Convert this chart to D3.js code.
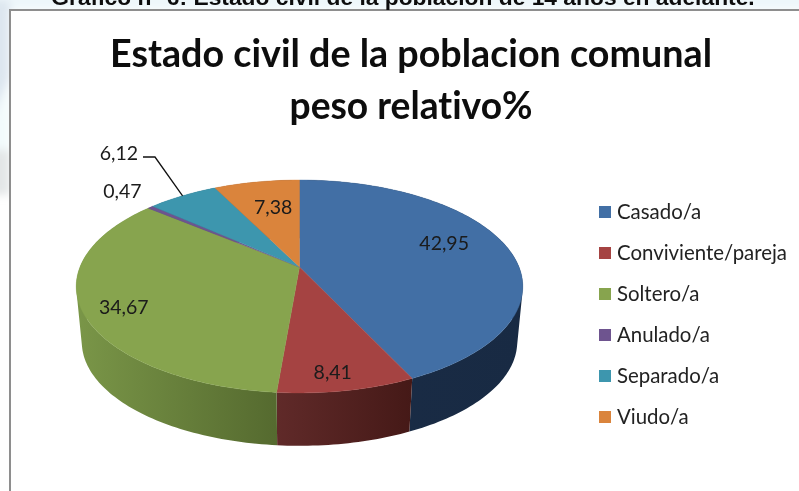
<!DOCTYPE html>
<html><head><meta charset="utf-8">
<script src="https://cdn.jsdelivr.net/npm/d3@7"></script>
<style>html,body{margin:0;padding:0;background:#fff}svg{display:block}text{font-variant-ligatures:none}</style>
</head><body><svg id="c" width="799" height="491"></svg>
<script>
const categories = ["Casado/a","Conviviente/pareja","Soltero/a","Anulado/a","Separado/a","Viudo/a"];
const values = [42.95,8.41,34.67,0.47,6.12,7.38];
const valueLabels = ["42,95","8,41","34,67","0,47","6,12","7,38"];
const colors = ["#426fa5","#a54342","#87a44e","#6e548f","#3d96ae","#da843c"];
const sideLight = ["#1a2c46","#602a29","#7a9648","#4a3860","#28697a","#97592a"];
const sideDark = ["#182a43","#451917","#556a2f","#3a2b4c","#1f5463","#7a4620"];
const titleLines = ["Estado civil de la poblacion comunal","peso relativo%"];
const titleWidths = [602,243];
const pageTitle = "Gráfico n° 6: Estado civil de la población de 14 años en adelante.";

const svg = d3.select("#c");
const defs = svg.append("defs");
const blur = defs.append("filter").attr("id","soft").attr("x","-20%").attr("y","-20%").attr("width","140%").attr("height","140%");
blur.append("feGaussianBlur").attr("stdDeviation",0.4);
const bgBlur = defs.append("filter").attr("id","bgb").attr("x","-50%").attr("y","-50%").attr("width","200%").attr("height","200%");
bgBlur.append("feGaussianBlur").attr("stdDeviation",4);

svg.append("rect").attr("width",799).attr("height",491).attr("fill","#fff");
const bg = svg.append("g").attr("filter","url(#bgb)");
bg.append("rect").attr("x",-10).attr("y",-10).attr("width",830).attr("height",20).attr("fill","#eef7fa");
bg.append("path").attr("d","M-10,0 H10 V78 L-10,122 Z").attr("fill","#dde6ef");
bg.append("path").attr("d","M-10,125 L10,80 V150 H-10 Z").attr("fill","#f2fafc");
bg.append("path").attr("d","M-10,150 H10 V195 H-10 Z").attr("fill","#e3e6e7");
svg.append("rect").attr("x",10).attr("y",10).attr("width",800).attr("height",490).attr("fill","#fff");
svg.append("path").attr("d","M10,500 V10 H800").attr("fill","none").attr("stroke","#8e8e8e").attr("stroke-width",2);

svg.append("text").attr("x",403).attr("y",5).attr("text-anchor","middle")
  .attr("font-family","Liberation Sans").attr("font-weight","bold").attr("font-size",22.8)
  .attr("fill","#111").attr("filter","url(#soft)").text(pageTitle);

svg.append("g").attr("filter","url(#soft)").selectAll("text").data(titleLines).join("text")
  .attr("x",411).attr("y",(d,i)=>67+i*52).attr("text-anchor","middle")
  .attr("font-family","Lato").attr("font-size",39).attr("font-weight",700).attr("fill","#0a0a0a")
  .attr("textLength",(d,i)=>titleWidths[i]).attr("lengthAdjust","spacingAndGlyphs")
  .text(d=>d);

const pie = d3.pie().sort(null).value(d=>d)(values);
const apex = {x:299.5,y:267}, B=219.5, A=102.9, K=-0.183;
function project(theta, scale, dy){
  const u=Math.sin(theta), v=-Math.cos(theta), w=1+K*v;
  return [apex.x+B*scale*u/w, apex.y+dy+A*scale*v/w];
}
const top_ = t=>project(t,1,0);
const bot_ = t=>project(t,0.975,56);
const samples=(a,b)=>{const n=Math.max(2,Math.ceil((b-a)/0.02));return d3.range(n+1).map(i=>a+(b-a)*i/n);};
const line=d3.line();
const gSide=svg.append("g"), gTop=svg.append("g");

pie.forEach((s,i)=>{
  const id="side"+i;
  const ts=samples(s.startAngle,s.endAngle);
  const xs=ts.map(t=>top_(t)[0]);
  const g=defs.append("linearGradient").attr("id",id).attr("gradientUnits","userSpaceOnUse")
    .attr("x1",d3.min(xs)).attr("x2",d3.max(xs)).attr("y1",0).attr("y2",0);
  g.append("stop").attr("offset",0).attr("stop-color",sideLight[i]);
  g.append("stop").attr("offset",1).attr("stop-color",sideDark[i]);
  // every step is a quad with the same winding, merged in one path: no seams, full silhouette
  const d=d3.pairs(ts).map(([a,b])=>{
    const quad=[top_(a),top_(b),bot_(b),bot_(a)];
    return line(d3.polygonArea(quad)<0?quad.reverse():quad)+"Z";
  }).join("");
  gSide.append("path").attr("fill",`url(#${id})`).attr("d",d);
});
pie.forEach((s,i)=>{
  const ts=samples(s.startAngle,s.endAngle);
  gTop.append("path").attr("fill",colors[i])
    .attr("stroke",colors[i]).attr("stroke-width",0.4)
    .attr("d",line([[apex.x,apex.y],...ts.map(top_)])+"Z");
});

const labelRadius=[0.66,0.70,0.80,1.27,1.53,0.80];
const labelShift=[[7,-9],[2,24],[-4,7],[7,-2],[-13,-12],[9,10]];
const labelFont="Lato";
const labels=svg.append("g").attr("filter","url(#soft)");
pie.forEach((s,i)=>{
  const m=(s.startAngle+s.endAngle)/2, u=Math.sin(m), v=-Math.cos(m), w=1+K*v*labelRadius[i];
  const x=apex.x+B*labelRadius[i]*u/w+labelShift[i][0], y=apex.y+A*labelRadius[i]*v/w+labelShift[i][1];
  labels.append("text").attr("x",x).attr("y",y).attr("text-anchor","middle").attr("dy","0.35em")
    .attr("font-family",labelFont).attr("font-size",19.5).attr("fill","#1a1a1a").text(valueLabels[i]);
});

const sep=pie[4], sepMid=sep.startAngle+(sep.endAngle-sep.startAngle)*0.5, sepEdge=top_(sepMid);
svg.append("path").attr("fill","none").attr("stroke","#111").attr("stroke-width",1.3)
  .attr("d",line([[143,157],[155,157],sepEdge]));

const legendY=d3.scalePoint().domain(categories).range([212,417]);
const leg=svg.append("g").selectAll("g").data(categories).join("g")
  .attr("transform",d=>`translate(599,${legendY(d)})`);
leg.append("rect").attr("x",0).attr("y",-6).attr("width",12).attr("height",12)
  .attr("fill",(d,i)=>colors[i]);
leg.append("text").attr("x",18).attr("dy","0.36em").attr("font-family",labelFont)
  .attr("font-size",20.4).attr("fill","#222").attr("filter","url(#soft)").text(d=>d);
</script></body></html>
